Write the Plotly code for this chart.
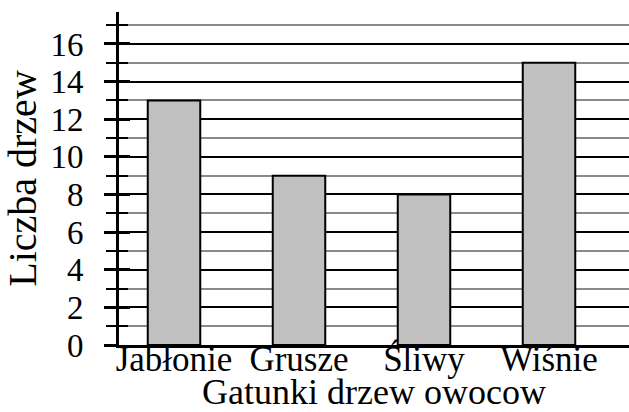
import plotly.graph_objects as go

categories = ["Jabłonie", "Grusze", "Śliwy", "Wiśnie"]
values = [13, 9, 8, 15]
x_title = "Gatunki drzew owocow"
y_title = "Liczba drzew"
y_max = 17.7

FONT = "Liberation Serif"

fig = go.Figure()
fig.add_trace(go.Bar(
    x=categories, y=values, width=0.42,
    marker=dict(color="#c0c0c0", line=dict(color="black", width=2)),
))
# helper overlay axis for ticks crossing the y axis
fig.add_trace(go.Scatter(x=categories, y=values, yaxis="y2", mode="markers",
                         marker=dict(opacity=0), hoverinfo="skip", showlegend=False))

fig.update_layout(
    width=629, height=412,
    margin=dict(l=119, r=0, t=12, b=67),
    paper_bgcolor="white", plot_bgcolor="white",
    showlegend=False,
    font=dict(family=FONT, color="black"),
    xaxis=dict(
        range=[-0.44, 3.64],
        showline=True, linecolor="black", linewidth=3,
        ticks="", showgrid=False,
        tickfont=dict(size=35, family=FONT),
        ticklabelstandoff=-19,
        title=dict(text=x_title, font=dict(size=36, family=FONT), standoff=6),
        automargin=False,
    ),
    yaxis=dict(
        range=[0, y_max],
        showline=True, linecolor="black", linewidth=3,
        tickvals=list(range(0, 17, 2)),
        ticks="outside", ticklen=12, tickwidth=3, tickcolor="black",
        showgrid=True, gridcolor="black", gridwidth=2,
        minor=dict(dtick=1, tick0=0, ticks="outside", ticklen=10, tickwidth=2,
                   tickcolor="black", showgrid=True, gridcolor="#8a8a8a", gridwidth=2),
        tickfont=dict(size=33, family=FONT),
        ticklabelstandoff=14,
        zeroline=False,
        title=dict(text=y_title, font=dict(size=40, family=FONT), standoff=10),
        automargin=False,
    ),
    yaxis2=dict(
        range=[0, y_max], overlaying="y", side="left",
        tickvals=list(range(0, 17, 2)),
        ticks="inside", ticklen=11, tickwidth=3, tickcolor="black",
        minor=dict(dtick=1, tick0=0, ticks="inside", ticklen=9, tickwidth=2, tickcolor="black"),
        showticklabels=False, showgrid=False, zeroline=False, showline=False,
    ),
)

fig.write_html("out.html", config={"displayModeBar": False},
               post_script="document.body.style.margin='0';")
